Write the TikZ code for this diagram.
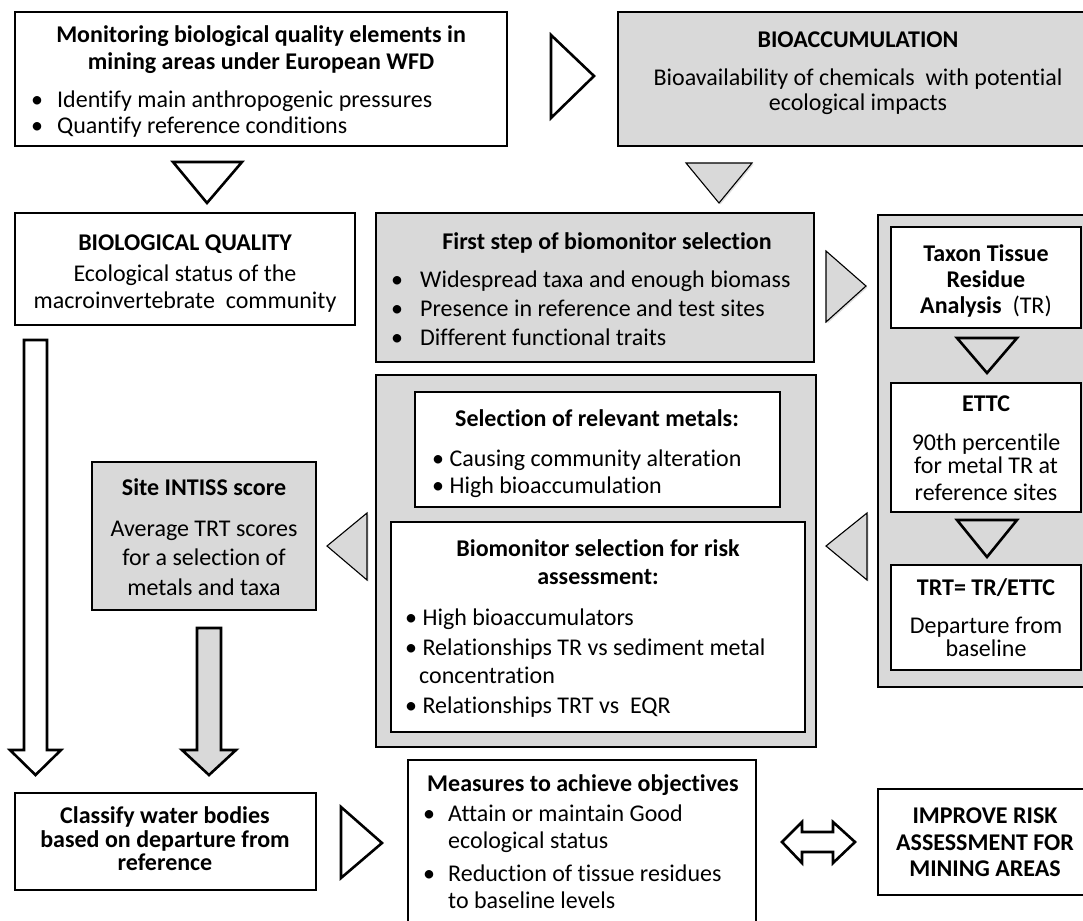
\documentclass[tikz,border=0pt]{standalone}
\usepackage{fontspec}
\setmainfont{Carlito}[Ligatures={NoCommon}]
\usetikzlibrary{shadows}
\definecolor{boxgray}{HTML}{D9D9D9}
\begin{document}
\begin{tikzpicture}[x=1pt,y=-1pt,
  box/.style={draw, line width=2.6pt, fill=white, inner sep=0pt, outer sep=0pt, anchor=north west},
  gbox/.style={box, fill=boxgray},
  tri/.style={draw, line width=2.6pt, line join=miter, fill=white},
  gtri/.style={draw, line width=1.1pt, line join=miter, fill=boxgray,
    drop shadow={opacity=0.25, shadow xshift=1.5pt, shadow yshift=-1.5pt}},
  t/.style={font=\fontsize{24}{28}\selectfont, inner sep=0pt, anchor=base},
  tb/.style={t, font=\fontsize{24}{28}\selectfont\bfseries},
  tl/.style={t, anchor=base west},
  tbl/.style={tb, anchor=base west},
]
\useasboundingbox (0,0) rectangle (1083,920);
\clip (0,0) rectangle (1083,920);

% ---------- top row ----------
\node[box, minimum width=492, minimum height=134] (b1) at (15,12) {};
\node[tb] (b1t1) at (261,43) {Monitoring biological quality elements in};
\node[tb] (b1t2) at (261,70) {mining areas under European WFD};
\node[t] (b1d1) at (37,108) {•};
\node[tl] (b1l1) at (57,108) {Identify main anthropogenic pressures};
\node[t] (b1d2) at (37,134) {•};
\node[tl] (b1l2) at (57,134) {Quantify reference conditions};

\draw[tri] (551,35) -- (594,76) -- (551,118) -- cycle;

\node[gbox, minimum width=480, minimum height=134] (b2) at (618,12) {};
\node[tb] (b2t) at (858,48) {BIOACCUMULATION};
\node[t] (b2l1) at (858,86) {Bioavailability of chemicals\ \ with potential};
\node[t] (b2l2) at (858,111) {ecological impacts};

\draw[tri] (173,162) -- (242,162) -- (207,203) -- cycle;
\draw[gtri] (686,163) -- (752,163) -- (719,203) -- cycle;

% ---------- second row ----------
\node[box, minimum width=340, minimum height=112] (bq) at (15,213) {};
\node[tb] (bqt) at (185,250) {BIOLOGICAL QUALITY};
\node[t] (bql1) at (185,281) {Ecological status of the};
\node[t] (bql2) at (185,308) {macroinvertebrate\ \ community};

\node[gbox, minimum width=438, minimum height=149] (fs) at (376,213) {};
\node[tb] (fst) at (607,249) {First step of biomonitor selection};
\node[t] (fsd1) at (397,287) {•};
\node[tl] (fsl1) at (420,287) {Widespread taxa and enough biomass};
\node[t] (fsd2) at (397,316) {•};
\node[tl] (fsl2) at (420,316) {Presence in reference and test sites};
\node[t] (fsd3) at (397,345) {•};
\node[tl] (fsl3) at (420,345) {Different functional traits};

\draw[gtri] (826,251) -- (866,286) -- (826,322) -- cycle;

% ---------- right panel ----------
\node[gbox, minimum width=230, minimum height=472] (rp) at (878,215) {};
\node[box, minimum width=190, minimum height=101] (tx) at (891,227) {};
\node[tb] (txl1) at (986,261) {Taxon Tissue};
\node[tb] (txl2) at (986,287) {Residue};
\node[t] (txl3) at (986,313) {\textbf{Analysis}\ \ (TR)};
\draw[tri, fill=boxgray] (957,338) -- (1017,338) -- (987,373) -- cycle;
\node[box, minimum width=190, minimum height=129] (et) at (891,383) {};
\node[tb] (ett) at (986,411) {ETTC};
\node[t] (etl1) at (986,450) {90th percentile};
\node[t] (etl2) at (986,473) {for metal TR at};
\node[t] (etl3) at (986,500) {reference sites};
\draw[tri, fill=boxgray] (957,520) -- (1017,520) -- (987,557) -- cycle;
\node[box, minimum width=190, minimum height=105] (tr) at (891,565) {};
\node[tb] (trt) at (986,595) {TRT= TR/ETTC};
\node[t] (trl1) at (986,633) {Departure from};
\node[t] (trl2) at (986,656) {baseline};

% ---------- middle panel ----------
\node[gbox, minimum width=440, minimum height=372] (mp) at (376,375) {};
\node[box, minimum width=365, minimum height=115] (sm) at (415,392) {};
\node[tb] (smt) at (597,426) {Selection of relevant metals:};
\node[tl] (sml1) at (432,466) {• Causing community alteration};
\node[tl] (sml2) at (432,493) {• High bioaccumulation};
\node[box, minimum width=414, minimum height=210] (bm) at (391,522) {};
\node[tb] (bmt1) at (598,556) {Biomonitor selection for risk};
\node[tb] (bmt2) at (598,584) {assessment:};
\node[tl] (bml1) at (405,625) {• High bioaccumulators};
\node[tl] (bml2) at (405,655) {• Relationships TR vs sediment metal};
\node[tl] (bml3) at (419,683) {concentration};
\node[tl] (bml4) at (405,713) {• Relationships TRT vs\ \ EQR};

\draw[gtri] (867,513) -- (826,546) -- (867,580) -- cycle;
\draw[gtri] (367,513) -- (327,546) -- (367,580) -- cycle;

% ---------- left column ----------
\node[gbox, minimum width=224, minimum height=148] (si) at (92,462) {};
\node[tb] (sit) at (204,495) {Site INTISS score};
\node[t] (sil1) at (204,536) {Average TRT scores};
\node[t] (sil2) at (204,565) {for a selection of};
\node[t] (sil3) at (204,595) {metals and taxa};

\draw[tri] (24,340) -- (47,340) -- (47,750) -- (61,750) -- (35.5,775) -- (10,750) -- (24,750) -- cycle;
\draw[tri, fill=boxgray] (197,628) -- (221,628) -- (221,750) -- (236,750) -- (209,775) -- (182,750) -- (197,750) -- cycle;

% ---------- bottom row ----------
\node[box, minimum width=301, minimum height=97] (cw) at (15,793) {};
\node[tb] (cwl1) at (165,823) {Classify water bodies};
\node[tb] (cwl2) at (165,847) {based on departure from};
\node[tb] (cwl3) at (165,870) {reference};

\draw[tri] (341,807) -- (382,843) -- (341,878) -- cycle;

\node[box, minimum width=348, minimum height=200] (ms) at (408,760) {};
\node[tbl] (mst) at (427,791) {Measures to achieve objectives};
\node[t] (msd1) at (429,821) {•};
\node[tl] (msl1) at (448,821) {Attain or maintain Good};
\node[tl] (msl2) at (448,848) {ecological status};
\node[t] (msd2) at (429,881) {•};
\node[tl] (msl3) at (448,881) {Reduction of tissue residues};
\node[tl] (msl4) at (448,908) {to baseline levels};

\draw[tri] (782,842) -- (802,822) -- (802,832) -- (833,832) -- (833,822) -- (855,842) -- (833,863) -- (833,852) -- (802,852) -- (802,863) -- cycle;

\node[box, minimum width=220, minimum height=106] (im) at (878,789) {};
\node[tb] (iml1) at (985,823) {IMPROVE RISK};
\node[tb] (iml2) at (985,850) {ASSESSMENT FOR};
\node[tb] (iml3) at (985,876) {MINING AREAS};
\end{tikzpicture}
\end{document}
